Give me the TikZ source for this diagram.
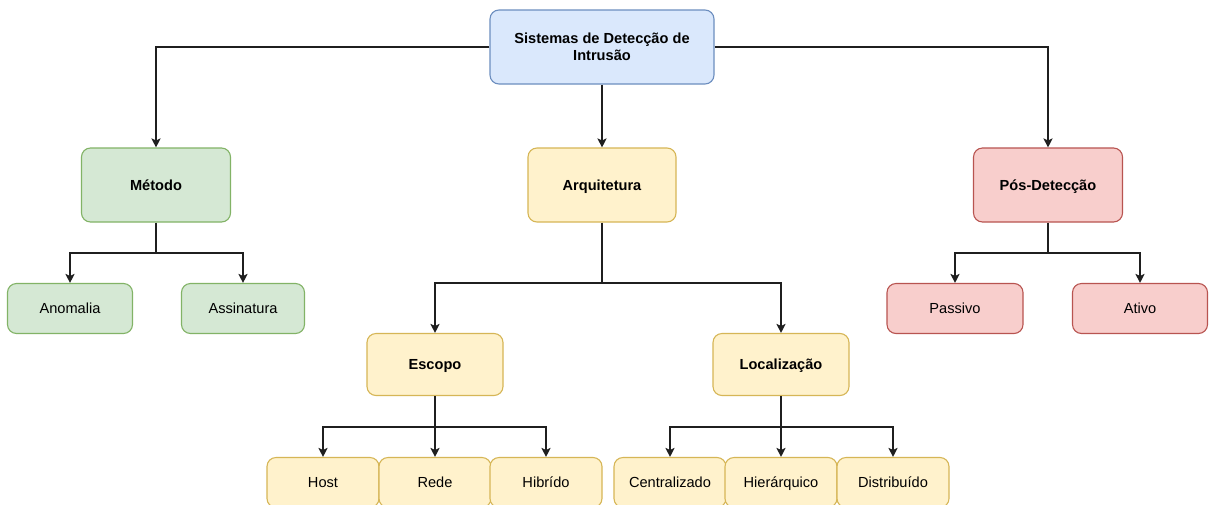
\documentclass[tikz,border=0pt]{standalone}
\usepackage{fontspec}
\setmainfont{Liberation Sans}
\usetikzlibrary{arrows.meta}
\definecolor{blueF}{HTML}{DAE8FC}\definecolor{blueS}{HTML}{6C8EBF}
\definecolor{greenF}{HTML}{D5E8D4}\definecolor{greenS}{HTML}{82B366}
\definecolor{yellowF}{HTML}{FFF2CC}\definecolor{yellowS}{HTML}{D6B656}
\definecolor{redF}{HTML}{F8CECC}\definecolor{redS}{HTML}{B85450}
\tikzset{
  box/.style={rounded corners=9pt, line width=1.1pt, align=center, inner sep=2pt,
    text height=12.5pt, text depth=2.5pt,
    font=\fontsize{14.6}{17.3}\selectfont},
  head/.style={box, font=\fontsize{14.6}{17.3}\selectfont\bfseries},
  bluebox/.style={fill=blueF, draw=blueS},
  greenbox/.style={fill=greenF, draw=greenS},
  yellowbox/.style={fill=yellowF, draw=yellowS},
  redbox/.style={fill=redF, draw=redS},
  link/.style={draw=black!88, line width=1.9pt,
    -{Stealth[length=9pt, width=9pt, inset=2pt]}},
  trunk/.style={draw=black!88, line width=1.9pt}
}
\begin{document}
\begin{tikzpicture}[x=1pt, y=-1pt]
\fill[white] (0,0) rectangle (1209,504);
\useasboundingbox (0,0) rectangle (1209,504);
\clip (0,0) rectangle (1209,504);

% root
\node[head, bluebox, minimum width=224pt, minimum height=74pt, text height=, text depth=] (root) at (602,47)
  {Sistemas de Detecção de\\Intrusão};

% second level
\node[head, greenbox, minimum width=149pt, minimum height=74pt] (metodo) at (156,185) {Método};
\node[head, yellowbox, minimum width=148pt, minimum height=74pt] (arq) at (602,185) {Arquitetura};
\node[head, redbox, minimum width=149pt, minimum height=74pt] (pos) at (1048,185) {Pós-Detecção};

% leaves of Método and Pós-Detecção
\node[box, greenbox, minimum width=125pt, minimum height=50pt] (anom) at (70,308.5) {Anomalia};
\node[box, greenbox, minimum width=123pt, minimum height=50pt] (assin) at (243,308.5) {Assinatura};
\node[box, redbox, minimum width=136pt, minimum height=50pt] (passivo) at (955,308.5) {Passivo};
\node[box, redbox, minimum width=135pt, minimum height=50pt] (ativo) at (1140,308.5) {Ativo};

% third level under Arquitetura
\node[head, yellowbox, minimum width=136pt, minimum height=62pt] (escopo) at (435,364.5) {Escopo};
\node[head, yellowbox, minimum width=136pt, minimum height=62pt] (loc) at (781,364.5) {Localização};

% leaves of Escopo and Localização
\tikzset{leaf/.style={box, yellowbox, minimum width=112pt, minimum height=50pt}}
\node[leaf] (host) at (323,482.5) {Host};
\node[leaf] (rede) at (435,482.5) {Rede};
\node[leaf] (hib) at (546,482.5) {Hibrído};
\node[leaf] (cent) at (670,482.5) {Centralizado};
\node[leaf] (hier) at (781,482.5) {Hierárquico};
\node[leaf] (dist) at (893,482.5) {Distribuído};

% junction points
\coordinate (jM) at (156,253);
\coordinate (jP) at (1048,253);
\coordinate (jA) at (602,283);
\coordinate (jE) at (435,427);
\coordinate (jL) at (781,427);

% connectors
\draw[link] (root.west) -| (metodo.north);
\draw[link] (root.east) -| (pos.north);
\draw[link] (root.south) -- (arq.north);

\draw[trunk] (metodo.south) -- (jM);
\draw[link] (jM) -| (anom.north);
\draw[link] (jM) -| (assin.north);

\draw[trunk] (pos.south) -- (jP);
\draw[link] (jP) -| (passivo.north);
\draw[link] (jP) -| (ativo.north);

\draw[trunk] (arq.south) -- (jA);
\draw[link] (jA) -| (escopo.north);
\draw[link] (jA) -| (loc.north);

\draw[trunk] (escopo.south) -- (jE);
\draw[link] (jE) -| (host.north);
\draw[link] (jE) -- (rede.north);
\draw[link] (jE) -| (hib.north);

\draw[trunk] (loc.south) -- (jL);
\draw[link] (jL) -| (cent.north);
\draw[link] (jL) -- (hier.north);
\draw[link] (jL) -| (dist.north);
\end{tikzpicture}
\end{document}
